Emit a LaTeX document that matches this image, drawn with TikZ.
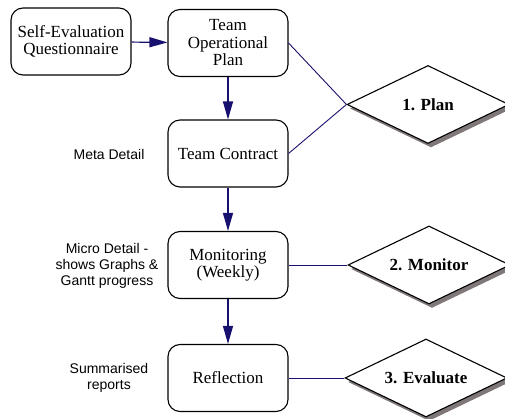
\documentclass[tikz,border=0pt]{standalone}
\usepackage{fontspec}
\setmainfont{Liberation Serif}
\setsansfont{Liberation Sans}
\usetikzlibrary{shapes.geometric,arrows.meta,shadows}
\definecolor{navy}{RGB}{24,16,110}
\definecolor{shadowgray}{RGB}{128,120,120}
\tikzset{
  box/.style={draw=black, line width=1.1pt, rounded corners=12pt, minimum width=120pt, minimum height=67pt, align=center, inner sep=2pt, font=\fontsize{17}{17.5}\selectfont},
  phase/.style={diamond, draw=black, line width=1.1pt, fill=white, minimum width=162pt, minimum height=78pt, inner sep=0pt, aspect=2.08, font=\fontsize{17}{18}\selectfont\bfseries,
    drop shadow={shadow xshift=3pt, shadow yshift=-4pt, fill=shadowgray, opacity=1}},
  lbl/.style={align=center, font=\sffamily\fontsize{14}{16}\selectfont},
  flow/.style={draw=navy, line width=1.2pt, -{Triangle[length=18pt,width=10pt]}},
  link/.style={draw=navy, line width=0.9pt}
}
\begin{document}
\begin{tikzpicture}[x=1pt,y=-1pt]
\useasboundingbox (0,0) rectangle (505,419);
\node[box] (seq) at (71,41.5) {Self-Evaluation\\Questionnaire};
\node[box] (top) at (228,43) {Team\\Operational\\Plan};
\node[box] (tc) at (228,153.5) {Team Contract};
\node[box] (mon) at (228,265) {Monitoring\\(Weekly)};
\node[box] (ref) at (228,378) {Reflection};
\node[phase] (p1) at (428,104.5) {1. Plan};
\node[phase] (p2) at (429,265) {2. Monitor};
\node[phase] (p3) at (426,378) {3. Evaluate};
\node[lbl] (l1) at (109,154) {Meta Detail};
\node[lbl] (l2) at (107,266) {Micro Detail -\\shows Graphs \&\\Gantt progress};
\node[lbl] (l3) at (109,378) {Summarised\\reports};
\draw[flow] (seq) -- (top);
\draw[flow] (top) -- (tc);
\draw[flow] (tc) -- (mon);
\draw[flow] (mon) -- (ref);
\draw[link] (top.east) -- (p1.west);
\draw[link] (tc.east) -- (p1.west);
\draw[link] (mon.east) -- (p2.west);
\draw[link] (ref.east) -- (p3.west);
\end{tikzpicture}
\end{document}
